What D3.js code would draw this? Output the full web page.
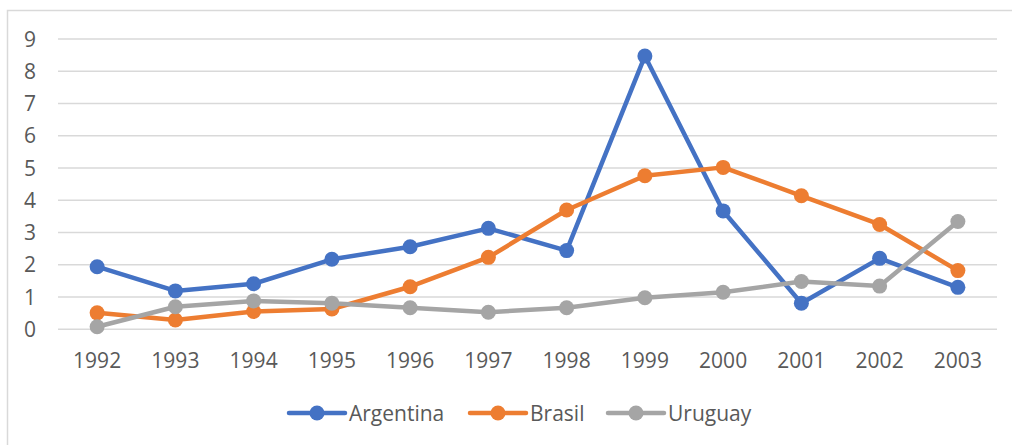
<!DOCTYPE html>
<html>
<head>
<meta charset="utf-8">
<script src="https://cdn.jsdelivr.net/npm/d3@7"></script>
<style>
  body { margin: 0; background: #fff; }
  text { font-family: "Open Sans", sans-serif; fill: #595959; }
</style>
</head>
<body>
<svg id="chart" width="1012" height="445"></svg>
<script>
// data
const years = ["1992", "1993", "1994", "1995", "1996", "1997", "1998", "1999", "2000", "2001", "2002", "2003"];
const argentina = [1.94, 1.19, 1.41, 2.17, 2.56, 3.13, 2.44, 8.47, 3.67, 0.81, 2.2, 1.3];
const brasil = [0.51, 0.29, 0.55, 0.63, 1.32, 2.23, 3.7, 4.76, 5.02, 4.14, 3.25, 1.82];
const uruguay = [0.08, 0.7, 0.88, 0.81, 0.67, 0.53, 0.67, 0.98, 1.15, 1.48, 1.34, 3.34];
const yTicks = [0, 1, 2, 3, 4, 5, 6, 7, 8, 9];

const series = [
    { name: "Argentina", values: argentina, color: "#4472C4" },
    { name: "Brasil", values: brasil, color: "#ED7D31" },
    { name: "Uruguay", values: uruguay, color: "#A5A5A5" }
];

const svg = d3.select("#chart");

// chart area frame
svg.append("path")
    .attr("d", "M7.5,445 V10.5 H1012")
    .attr("fill", "none")
    .attr("stroke", "#D9D9D9")
    .attr("stroke-width", 1.5);

const x = d3.scaleBand().domain(years).range([58, 997]);
const y = d3.scaleLinear().domain([0, 9]).range([329.3, 39]);

// gridlines
svg.append("g")
    .selectAll("line")
    .data(yTicks)
    .enter().append("line")
    .attr("x1", 58)
    .attr("x2", 997)
    .attr("y1", d => y(d))
    .attr("y2", d => y(d))
    .attr("stroke", "#D9D9D9")
    .attr("stroke-width", 1.5);

// y labels
svg.append("g")
    .selectAll("text")
    .data(yTicks)
    .enter().append("text")
    .attr("x", 36)
    .attr("y", d => y(d))
    .attr("dy", "0.36em")
    .attr("text-anchor", "end")
    .attr("font-size", 21)
    .text(d => d);

// x labels
svg.append("g")
    .selectAll("text")
    .data(years)
    .enter().append("text")
    .attr("x", d => x(d) + x.bandwidth() / 2)
    .attr("y", 360)
    .attr("dy", "0.36em")
    .attr("text-anchor", "middle")
    .attr("font-size", 21)
    .text(d => d);

const line = d3.line()
    .x((d, i) => x(years[i]) + x.bandwidth() / 2)
    .y(d => y(d));

series.forEach(s => {
    const g = svg.append("g");
    g.append("path")
        .datum(s.values)
        .attr("d", line)
        .attr("fill", "none")
        .attr("stroke", s.color)
        .attr("stroke-width", 4.5)
        .attr("stroke-linejoin", "round")
        .attr("stroke-linecap", "round");
    g.selectAll("circle")
        .data(s.values)
        .enter().append("circle")
        .attr("cx", (d, i) => x(years[i]) + x.bandwidth() / 2)
        .attr("cy", d => y(d))
        .attr("r", 7.5)
        .attr("fill", s.color);
});

// legend
const legendX = [289, 470, 608];
const legend = svg.append("g")
    .selectAll("g")
    .data(series)
    .enter().append("g")
    .attr("transform", (d, i) => `translate(${legendX[i]},413)`);

legend.append("line")
    .attr("x1", 0)
    .attr("x2", 56)
    .attr("stroke", d => d.color)
    .attr("stroke-width", 4.5)
    .attr("stroke-linecap", "round");

legend.append("circle")
    .attr("cx", 28)
    .attr("r", 7.5)
    .attr("fill", d => d.color);

legend.append("text")
    .attr("x", 60)
    .attr("dy", "0.36em")
    .attr("font-size", 21)
    .text(d => d.name);
</script>
</body>
</html>
